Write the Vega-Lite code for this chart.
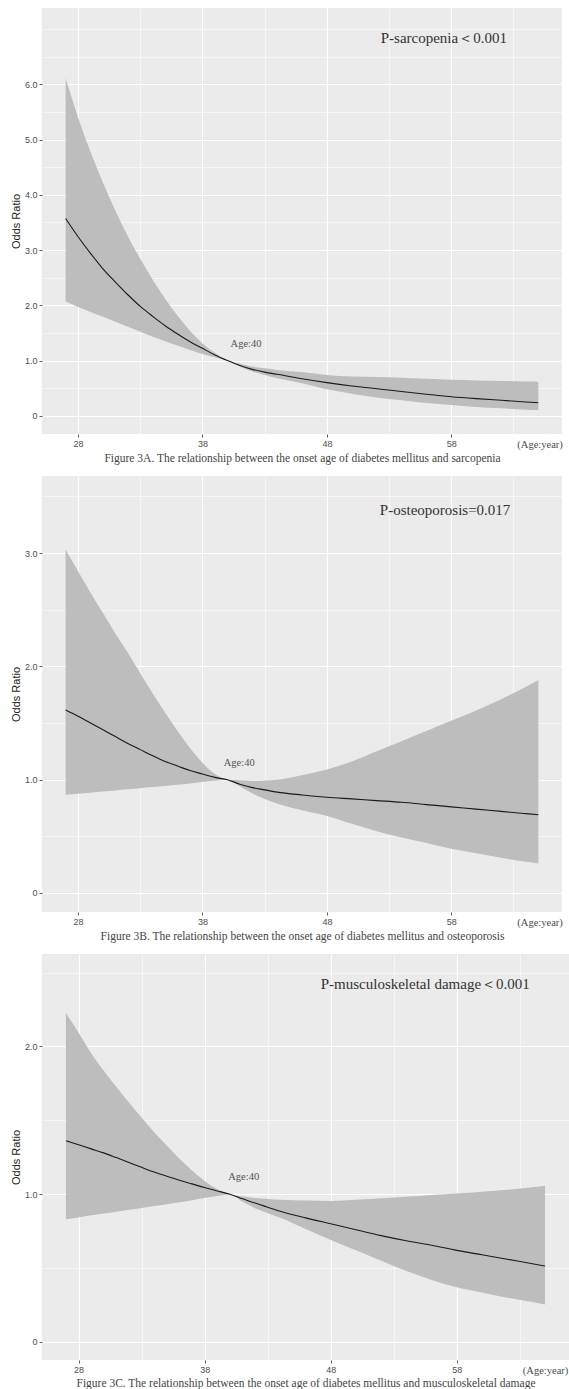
{
  "$schema": "https://vega.github.io/schema/vega-lite/v6.json",
  "background": "white",
  "padding": {"left": 10, "top": 8, "right": 0, "bottom": 0},
  "autosize": {"type": "pad"},
  "spacing": 42,
  "bounds": "flush",
  "datasets": {
    "a": [
      {"age": 27, "or": 3.57, "lo": 2.07, "hi": 6.11},
      {"age": 28, "or": 3.24, "lo": 1.97, "hi": 5.40},
      {"age": 29, "or": 2.94, "lo": 1.88, "hi": 4.78},
      {"age": 30, "or": 2.66, "lo": 1.79, "hi": 4.22},
      {"age": 31, "or": 2.42, "lo": 1.70, "hi": 3.71},
      {"age": 32, "or": 2.19, "lo": 1.61, "hi": 3.25},
      {"age": 33, "or": 1.98, "lo": 1.52, "hi": 2.84},
      {"age": 34, "or": 1.80, "lo": 1.43, "hi": 2.46},
      {"age": 35, "or": 1.63, "lo": 1.35, "hi": 2.12},
      {"age": 36, "or": 1.48, "lo": 1.27, "hi": 1.81},
      {"age": 37, "or": 1.34, "lo": 1.19, "hi": 1.54},
      {"age": 38, "or": 1.22, "lo": 1.12, "hi": 1.31},
      {"age": 39, "or": 1.10, "lo": 1.06, "hi": 1.14},
      {"age": 40, "or": 1.00, "lo": 1.00, "hi": 1.00},
      {"age": 41, "or": 0.91, "lo": 0.89, "hi": 0.94},
      {"age": 42, "or": 0.84, "lo": 0.80, "hi": 0.89},
      {"age": 43, "or": 0.79, "lo": 0.74, "hi": 0.86},
      {"age": 44, "or": 0.75, "lo": 0.68, "hi": 0.83},
      {"age": 46, "or": 0.67, "lo": 0.59, "hi": 0.79},
      {"age": 48, "or": 0.60, "lo": 0.48, "hi": 0.74},
      {"age": 50, "or": 0.54, "lo": 0.40, "hi": 0.71},
      {"age": 52, "or": 0.49, "lo": 0.33, "hi": 0.70},
      {"age": 54, "or": 0.44, "lo": 0.28, "hi": 0.69},
      {"age": 56, "or": 0.39, "lo": 0.23, "hi": 0.67},
      {"age": 58, "or": 0.345, "lo": 0.195, "hi": 0.65},
      {"age": 60, "or": 0.31, "lo": 0.16, "hi": 0.64},
      {"age": 62, "or": 0.28, "lo": 0.135, "hi": 0.63},
      {"age": 64, "or": 0.25, "lo": 0.11, "hi": 0.62},
      {"age": 65, "or": 0.235, "lo": 0.103, "hi": 0.616}
    ],
    "b": [
      {"age": 27, "or": 1.615, "lo": 0.866, "hi": 3.03},
      {"age": 28, "or": 1.56, "lo": 0.875, "hi": 2.84},
      {"age": 29, "or": 1.50, "lo": 0.885, "hi": 2.65},
      {"age": 30, "or": 1.44, "lo": 0.895, "hi": 2.47},
      {"age": 31, "or": 1.38, "lo": 0.905, "hi": 2.29},
      {"age": 32, "or": 1.32, "lo": 0.915, "hi": 2.12},
      {"age": 33, "or": 1.265, "lo": 0.925, "hi": 1.94},
      {"age": 34, "or": 1.21, "lo": 0.935, "hi": 1.76},
      {"age": 35, "or": 1.16, "lo": 0.945, "hi": 1.59},
      {"age": 36, "or": 1.12, "lo": 0.955, "hi": 1.43},
      {"age": 37, "or": 1.08, "lo": 0.967, "hi": 1.28},
      {"age": 38, "or": 1.05, "lo": 0.98, "hi": 1.15},
      {"age": 39, "or": 1.02, "lo": 0.99, "hi": 1.05},
      {"age": 40, "or": 1.0, "lo": 1.0, "hi": 1.0},
      {"age": 41, "or": 0.96, "lo": 0.94, "hi": 0.995},
      {"age": 42, "or": 0.93, "lo": 0.88, "hi": 0.99},
      {"age": 43, "or": 0.91, "lo": 0.83, "hi": 0.993},
      {"age": 44, "or": 0.89, "lo": 0.79, "hi": 1.0},
      {"age": 46, "or": 0.865, "lo": 0.73, "hi": 1.04},
      {"age": 48, "or": 0.845, "lo": 0.68, "hi": 1.09},
      {"age": 50, "or": 0.83, "lo": 0.61, "hi": 1.16},
      {"age": 52, "or": 0.815, "lo": 0.545, "hi": 1.25},
      {"age": 54, "or": 0.80, "lo": 0.49, "hi": 1.34},
      {"age": 56, "or": 0.78, "lo": 0.44, "hi": 1.43},
      {"age": 58, "or": 0.76, "lo": 0.39, "hi": 1.52},
      {"age": 60, "or": 0.74, "lo": 0.35, "hi": 1.61},
      {"age": 62, "or": 0.72, "lo": 0.31, "hi": 1.71},
      {"age": 64, "or": 0.70, "lo": 0.275, "hi": 1.82},
      {"age": 65, "or": 0.69, "lo": 0.26, "hi": 1.88}
    ],
    "c": [
      {"age": 27, "or": 1.362, "lo": 0.83, "hi": 2.226},
      {"age": 28, "or": 1.335, "lo": 0.843, "hi": 2.093},
      {"age": 29, "or": 1.307, "lo": 0.857, "hi": 1.955},
      {"age": 30, "or": 1.28, "lo": 0.87, "hi": 1.835},
      {"age": 31, "or": 1.248, "lo": 0.882, "hi": 1.725},
      {"age": 32, "or": 1.215, "lo": 0.895, "hi": 1.62},
      {"age": 33, "or": 1.182, "lo": 0.907, "hi": 1.52},
      {"age": 34, "or": 1.15, "lo": 0.92, "hi": 1.42},
      {"age": 35, "or": 1.122, "lo": 0.932, "hi": 1.33},
      {"age": 36, "or": 1.095, "lo": 0.945, "hi": 1.24},
      {"age": 37, "or": 1.07, "lo": 0.96, "hi": 1.16},
      {"age": 38, "or": 1.045, "lo": 0.975, "hi": 1.09},
      {"age": 39, "or": 1.022, "lo": 0.988, "hi": 1.035},
      {"age": 40, "or": 1.0, "lo": 1.0, "hi": 1.0},
      {"age": 41, "or": 0.97, "lo": 0.95, "hi": 0.985},
      {"age": 42, "or": 0.94, "lo": 0.905, "hi": 0.975},
      {"age": 43, "or": 0.912, "lo": 0.872, "hi": 0.968},
      {"age": 44, "or": 0.885, "lo": 0.84, "hi": 0.963},
      {"age": 46, "or": 0.84, "lo": 0.765, "hi": 0.957},
      {"age": 48, "or": 0.80, "lo": 0.69, "hi": 0.955},
      {"age": 50, "or": 0.76, "lo": 0.62, "hi": 0.962},
      {"age": 52, "or": 0.72, "lo": 0.55, "hi": 0.972},
      {"age": 54, "or": 0.685, "lo": 0.48, "hi": 0.983},
      {"age": 56, "or": 0.655, "lo": 0.42, "hi": 0.995},
      {"age": 58, "or": 0.62, "lo": 0.37, "hi": 1.005},
      {"age": 60, "or": 0.59, "lo": 0.335, "hi": 1.017},
      {"age": 62, "or": 0.56, "lo": 0.30, "hi": 1.03},
      {"age": 64, "or": 0.53, "lo": 0.27, "hi": 1.048},
      {"age": 65, "or": 0.514, "lo": 0.253, "hi": 1.057}
    ],
    "notes": [
      {"panel": "A", "kind": "p", "age": 57.4, "y": 6.84, "text": "P-sarcopenia＜0.001"},
      {"panel": "A", "kind": "age", "age": 41.5, "y": 1.29, "text": "Age:40"},
      {"panel": "B", "kind": "p", "age": 57.5, "y": 3.38, "text": "P-osteoporosis=0.017"},
      {"panel": "B", "kind": "age", "age": 40.95, "y": 1.147, "text": "Age:40"},
      {"panel": "C", "kind": "p", "age": 55.5, "y": 2.42, "text": "P-musculoskeletal damage＜0.001"},
      {"panel": "C", "kind": "age", "age": 41.1, "y": 1.117, "text": "Age:40"}
    ]
  },
  "vconcat": [
    {
      "width": 520,
      "height": 426,
      "encoding": {
        "x": {
          "field": "age", "type": "quantitative",
          "scale": {"domain": [25.1, 66.9], "nice": false, "zero": false},
          "axis": {
            "title": "Figure 3A. The relationship between the onset age of diabetes mellitus and sarcopenia",
            "values": [28, 33, 38, 43, 48, 53, 58, 63, 65.1],
            "labelExpr": "datum.value > 64 ? '(Age:year)' : (datum.value % 10 === 8 ? datum.label : '')",
            "labelFont": {"condition": {"test": "datum.value > 64", "value": "Liberation Serif"}, "value": "Liberation Sans"},
            "labelFontSize": {"condition": {"test": "datum.value > 64", "value": 10.5}, "value": 9},
            "tickOpacity": {"condition": {"test": "datum.value % 10 === 8", "value": 1}, "value": 0},
            "gridOpacity": {"condition": {"test": "datum.value > 64", "value": 0}, "value": 1},
            "gridWidth": {"condition": {"test": "datum.value % 10 === 8", "value": 1.1}, "value": 0.55}
          }
        },
        "y": {
          "field": "lo", "type": "quantitative",
          "scale": {"domain": [-0.33, 7.38], "nice": false, "zero": false},
          "axis": {
            "title": "Odds Ratio",
            "values": [0, 0.5, 1, 1.5, 2, 2.5, 3, 3.5, 4, 4.5, 5, 5.5, 6, 6.5, 7],
            "labelExpr": "datum.value % 1 === 0 && datum.value <= 6 ? (datum.value === 0 ? '0' : format(datum.value, '.1f')) : ''",
            "tickOpacity": {"condition": {"test": "datum.value % 1 === 0 && datum.value <= 6", "value": 1}, "value": 0},
            "gridWidth": {"condition": {"test": "datum.value % 1 === 0 && datum.value <= 6", "value": 1.1}, "value": 0.55}
          }
        }
      },
      "layer": [
        {
          "data": {"name": "a"},
          "mark": {"type": "area", "color": "#bdbdbd", "opacity": 1, "interpolate": "monotone"},
          "encoding": {"y2": {"field": "hi"}}
        },
        {
          "data": {"name": "a"},
          "mark": {"type": "line", "color": "#1a1a1a", "strokeWidth": 1.1, "interpolate": "monotone"},
          "encoding": {"y": {"field": "or", "type": "quantitative"}}
        },
        {
          "data": {"name": "notes"},
          "transform": [{"filter": "datum.panel === 'A'"}],
          "mark": {"type": "text", "font": "Liberation Serif", "align": "center", "baseline": "middle"},
          "encoding": {
            "y": {"field": "y", "type": "quantitative"},
            "text": {"field": "text"},
            "size": {"field": "kind", "type": "nominal", "scale": {"domain": ["p", "age"], "range": [15, 10.5]}, "legend": null},
            "color": {"field": "kind", "type": "nominal", "scale": {"domain": ["p", "age"], "range": ["#333333", "#555555"]}, "legend": null}
          }
        }
      ]
    },
    {
      "width": 520,
      "height": 436,
      "encoding": {
        "x": {
          "field": "age", "type": "quantitative",
          "scale": {"domain": [25.1, 66.9], "nice": false, "zero": false},
          "axis": {
            "title": "Figure 3B. The relationship between the onset age of diabetes mellitus and osteoporosis",
            "values": [28, 33, 38, 43, 48, 53, 58, 63, 65.1],
            "labelExpr": "datum.value > 64 ? '(Age:year)' : (datum.value % 10 === 8 ? datum.label : '')",
            "labelFont": {"condition": {"test": "datum.value > 64", "value": "Liberation Serif"}, "value": "Liberation Sans"},
            "labelFontSize": {"condition": {"test": "datum.value > 64", "value": 10.5}, "value": 9},
            "tickOpacity": {"condition": {"test": "datum.value % 10 === 8", "value": 1}, "value": 0},
            "gridOpacity": {"condition": {"test": "datum.value > 64", "value": 0}, "value": 1},
            "gridWidth": {"condition": {"test": "datum.value % 10 === 8", "value": 1.1}, "value": 0.55}
          }
        },
        "y": {
          "field": "lo", "type": "quantitative",
          "scale": {"domain": [-0.168, 3.68], "nice": false, "zero": false},
          "axis": {
            "title": "Odds Ratio",
            "values": [0, 0.5, 1, 1.5, 2, 2.5, 3, 3.5],
            "labelExpr": "datum.value % 1 === 0 && datum.value <= 3 ? (datum.value === 0 ? '0' : format(datum.value, '.1f')) : ''",
            "tickOpacity": {"condition": {"test": "datum.value % 1 === 0 && datum.value <= 3", "value": 1}, "value": 0},
            "gridWidth": {"condition": {"test": "datum.value % 1 === 0 && datum.value <= 3", "value": 1.1}, "value": 0.55}
          }
        }
      },
      "layer": [
        {
          "data": {"name": "b"},
          "mark": {"type": "area", "color": "#bdbdbd", "opacity": 1, "interpolate": "monotone"},
          "encoding": {"y2": {"field": "hi"}}
        },
        {
          "data": {"name": "b"},
          "mark": {"type": "line", "color": "#1a1a1a", "strokeWidth": 1.1, "interpolate": "monotone"},
          "encoding": {"y": {"field": "or", "type": "quantitative"}}
        },
        {
          "data": {"name": "notes"},
          "transform": [{"filter": "datum.panel === 'B'"}],
          "mark": {"type": "text", "font": "Liberation Serif", "align": "center", "baseline": "middle"},
          "encoding": {
            "y": {"field": "y", "type": "quantitative"},
            "text": {"field": "text"},
            "size": {"field": "kind", "type": "nominal", "scale": {"domain": ["p", "age"], "range": [15, 10.5]}, "legend": null},
            "color": {"field": "kind", "type": "nominal", "scale": {"domain": ["p", "age"], "range": ["#333333", "#555555"]}, "legend": null}
          }
        }
      ]
    },
    {
      "width": 527,
      "height": 406,
      "encoding": {
        "x": {
          "field": "age", "type": "quantitative",
          "scale": {"domain": [25.1, 66.9], "nice": false, "zero": false},
          "axis": {
            "title": "Figure 3C. The relationship between the onset age of diabetes mellitus and musculoskeletal damage",
            "values": [28, 33, 38, 43, 48, 53, 58, 63, 65.0],
            "labelExpr": "datum.value > 64 ? '(Age:year)' : (datum.value % 10 === 8 ? datum.label : '')",
            "labelFont": {"condition": {"test": "datum.value > 64", "value": "Liberation Serif"}, "value": "Liberation Sans"},
            "labelFontSize": {"condition": {"test": "datum.value > 64", "value": 10.5}, "value": 9},
            "tickOpacity": {"condition": {"test": "datum.value % 10 === 8", "value": 1}, "value": 0},
            "gridOpacity": {"condition": {"test": "datum.value > 64", "value": 0}, "value": 1},
            "gridWidth": {"condition": {"test": "datum.value % 10 === 8", "value": 1.1}, "value": 0.55},
            "titlePadding": 2
          }
        },
        "y": {
          "field": "lo", "type": "quantitative",
          "scale": {"domain": [-0.122, 2.626], "nice": false, "zero": false},
          "axis": {
            "title": "Odds Ratio",
            "values": [0, 0.5, 1, 1.5, 2, 2.5],
            "labelExpr": "datum.value % 1 === 0 && datum.value <= 2 ? (datum.value === 0 ? '0' : format(datum.value, '.1f')) : ''",
            "tickOpacity": {"condition": {"test": "datum.value % 1 === 0 && datum.value <= 2", "value": 1}, "value": 0},
            "gridWidth": {"condition": {"test": "datum.value % 1 === 0 && datum.value <= 2", "value": 1.1}, "value": 0.55}
          }
        }
      },
      "layer": [
        {
          "data": {"name": "c"},
          "mark": {"type": "area", "color": "#bdbdbd", "opacity": 1, "interpolate": "monotone"},
          "encoding": {"y2": {"field": "hi"}}
        },
        {
          "data": {"name": "c"},
          "mark": {"type": "line", "color": "#1a1a1a", "strokeWidth": 1.1, "interpolate": "monotone"},
          "encoding": {"y": {"field": "or", "type": "quantitative"}}
        },
        {
          "data": {"name": "notes"},
          "transform": [{"filter": "datum.panel === 'C'"}],
          "mark": {"type": "text", "font": "Liberation Serif", "align": "center", "baseline": "middle"},
          "encoding": {
            "y": {"field": "y", "type": "quantitative"},
            "text": {"field": "text"},
            "size": {"field": "kind", "type": "nominal", "scale": {"domain": ["p", "age"], "range": [15, 10.5]}, "legend": null},
            "color": {"field": "kind", "type": "nominal", "scale": {"domain": ["p", "age"], "range": ["#333333", "#555555"]}, "legend": null}
          }
        }
      ]
    }
  ],
  "config": {
    "view": {"fill": "#ebebeb", "stroke": null},
    "axis": {
      "domain": false,
      "gridColor": "#ffffff",
      "tickColor": "#333333",
      "tickSize": 3,
      "tickWidth": 0.8,
      "labelFont": "Liberation Sans",
      "labelFontSize": 9,
      "labelColor": "#4d4d4d",
      "labelPadding": 2,
      "titleFontWeight": "normal"
    },
    "axisY": {"titleFont": "Liberation Sans", "titleFontSize": 11, "titleColor": "#222222", "titlePadding": 3},
    "axisX": {"titleFont": "Liberation Serif", "titleFontSize": 11.5, "titleColor": "#444444", "titlePadding": 3, "labelFlush": false, "labelOverlap": false, "labelBound": false}
  }
}
